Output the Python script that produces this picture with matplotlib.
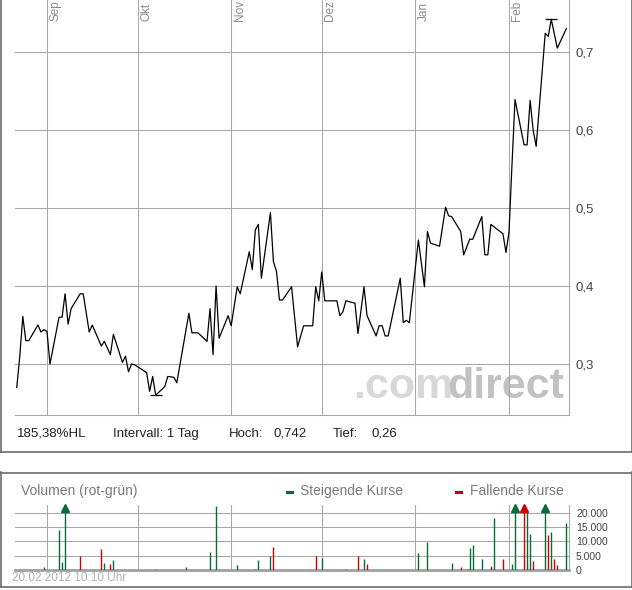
import matplotlib
matplotlib.use("Agg")
import matplotlib.pyplot as plt
from matplotlib.patches import Rectangle
from matplotlib.lines import Line2D
import pandas as pd

plt.rcParams['font.family'] = ['Liberation Sans', 'DejaVu Sans']

# daily closing prices
price_dates = [
    '2011-08-22', '2011-08-23', '2011-08-24', '2011-08-25', '2011-08-26',
    '2011-08-29', '2011-08-30', '2011-08-31', '2011-09-01', '2011-09-02',
    '2011-09-05', '2011-09-06', '2011-09-07', '2011-09-08', '2011-09-09',
    '2011-09-12', '2011-09-13', '2011-09-15', '2011-09-16', '2011-09-19',
    '2011-09-20', '2011-09-22', '2011-09-23', '2011-09-26', '2011-09-27',
    '2011-09-28', '2011-09-29', '2011-09-30', '2011-10-04', '2011-10-05',
    '2011-10-06', '2011-10-07', '2011-10-10', '2011-10-11', '2011-10-13',
    '2011-10-14', '2011-10-18', '2011-10-19', '2011-10-21', '2011-10-24',
    '2011-10-25', '2011-10-26', '2011-10-27', '2011-10-28', '2011-10-31',
    '2011-11-01', '2011-11-03', '2011-11-04', '2011-11-07', '2011-11-08',
    '2011-11-09', '2011-11-10', '2011-11-11', '2011-11-14', '2011-11-15',
    '2011-11-16', '2011-11-17', '2011-11-18', '2011-11-21', '2011-11-23',
    '2011-11-25', '2011-11-28', '2011-11-29', '2011-11-30', '2011-12-01',
    '2011-12-02', '2011-12-06', '2011-12-07', '2011-12-08', '2011-12-09',
    '2011-12-12', '2011-12-13', '2011-12-15', '2011-12-16', '2011-12-19',
    '2011-12-20', '2011-12-21', '2011-12-22', '2011-12-23', '2011-12-27',
    '2011-12-28', '2011-12-29', '2011-12-30', '2012-01-02', '2012-01-04',
    '2012-01-05', '2012-01-06', '2012-01-09', '2012-01-11', '2012-01-12',
    '2012-01-13', '2012-01-16', '2012-01-17', '2012-01-19', '2012-01-20',
    '2012-01-23', '2012-01-24', '2012-01-25', '2012-01-26', '2012-01-30',
    '2012-01-31', '2012-02-01', '2012-02-02', '2012-02-03', '2012-02-06',
    '2012-02-07', '2012-02-08', '2012-02-09', '2012-02-10', '2012-02-13',
    '2012-02-14', '2012-02-15', '2012-02-17', '2012-02-20',
]
price_values = [
    0.270, 0.310, 0.361, 0.330, 0.330,
    0.350, 0.341, 0.344, 0.342, 0.300,
    0.360, 0.360, 0.390, 0.351, 0.371,
    0.390, 0.390, 0.341, 0.350, 0.323,
    0.329, 0.312, 0.338, 0.302, 0.310,
    0.290, 0.300, 0.299, 0.289, 0.265,
    0.284, 0.260, 0.271, 0.284, 0.283,
    0.276, 0.365, 0.340, 0.340, 0.329,
    0.371, 0.312, 0.400, 0.333, 0.362,
    0.349, 0.399, 0.390, 0.444, 0.421,
    0.472, 0.479, 0.410, 0.494, 0.431,
    0.419, 0.382, 0.382, 0.399, 0.322,
    0.349, 0.349, 0.399, 0.381, 0.418,
    0.381, 0.381, 0.362, 0.367, 0.381,
    0.378, 0.339, 0.399, 0.362, 0.336,
    0.349, 0.349, 0.336, 0.336, 0.410,
    0.353, 0.356, 0.353, 0.459, 0.399,
    0.470, 0.455, 0.451, 0.501, 0.490,
    0.489, 0.470, 0.440, 0.460, 0.460,
    0.489, 0.440, 0.440, 0.479, 0.467,
    0.443, 0.469, 0.556, 0.639, 0.581,
    0.581, 0.638, 0.600, 0.579, 0.724,
    0.720, 0.742, 0.705, 0.730,
]

# traded volume (pieces); values above the scale are cut off with an arrow
vol_dates = [
    '2011-08-31', '2011-09-05', '2011-09-06', '2011-09-07', '2011-09-12',
    '2011-09-19', '2011-09-20', '2011-09-22', '2011-09-23', '2011-10-07',
    '2011-10-17', '2011-10-25', '2011-10-27', '2011-11-03', '2011-11-09',
    '2011-11-10', '2011-11-14', '2011-11-15', '2011-11-29', '2011-12-01',
    '2011-12-09', '2011-12-13', '2011-12-15', '2011-12-16', '2012-01-02',
    '2012-01-05', '2012-01-13', '2012-01-16', '2012-01-18', '2012-01-19',
    '2012-01-20', '2012-01-23', '2012-01-26', '2012-01-27', '2012-01-30',
    '2012-02-02', '2012-02-03', '2012-02-06', '2012-02-07', '2012-02-08',
    '2012-02-09', '2012-02-13', '2012-02-14', '2012-02-15', '2012-02-16',
    '2012-02-17', '2012-02-20',
]
vol_values = [
    1200, 14000, 2800, 30000, 4900,
    7400, 2300, 2100, 3500, 350,
    1200, 6300, 22600, 1750, 400,
    3500, 4900, 8100, 4900, 4200,
    350, 4900, 3900, 2100, 6000,
    9800, 2500, 1050, 350, 7700,
    8800, 3900, 1400, 18300, 3900,
    2100, 30000, 30000, 21000, 12600,
    3200, 30000, 12300, 13300, 3900,
    1750, 16600,
]
vol_rising = [
    1, 1, 1, 1, 0,
    0, 1, 0, 1, 0,
    1, 1, 1, 1, 1,
    1, 1, 0, 0, 1,
    0, 0, 1, 0, 1,
    1, 1, 0, 0, 1,
    1, 1, 0, 1, 0,
    1, 1, 0, 1, 1,
    0, 1, 0, 1, 0,
    0, 1,
]

month_starts = ['2011-09-01', '2011-10-01', '2011-11-01',
                '2011-12-01', '2012-01-01', '2012-02-01']
month_labels = ['Sep', 'Okt', 'Nov', 'Dez', 'Jan', 'Feb']

price_ticks = [0.3, 0.4, 0.5, 0.6, 0.7]
price_tick_labels = ['0,3', '0,4', '0,5', '0,6', '0,7']
vol_ticks = [0, 5000, 10000, 15000, 20000]
vol_tick_labels = ['0', '5.000', '10.000', '15.000', '20.000']

GRID = '#a8a8a8'
FRAME = '#6c6c6c'
GREEN = '#0a6b3a'
RED = '#d00000'

W, H = 632, 590


def fx(px):
    return px / W


def fy(py):
    return 1 - py / H


fig = plt.figure(figsize=(W / 100, H / 100), dpi=100)
fig.patch.set_facecolor('white')

dates = pd.to_datetime(price_dates)
vdates = pd.to_datetime(vol_dates)
mstarts = pd.to_datetime(month_starts)
x_start = pd.Timestamp('2011-08-21 10:00')
x_end = pd.Timestamp('2012-02-20 21:00')

# ---- price panel ----
ax = fig.add_axes([fx(15), fy(415), (569 - 15) / W, 415 / H])
ax.set_xlim(x_start, x_end)
ax.set_ylim(0.2346, 0.7667)
ax.set_axisbelow(True)

ax.plot(dates, price_values, color='black', lw=0.9, zorder=3)

# high / low markers
s = pd.Series(price_values, index=dates)
for d in (s.idxmax(), s.idxmin()):
    ax.plot([d], [s[d]], marker='_', ms=8, mew=0.9, color='black', zorder=3)

ax.set_yticks(price_ticks)
ax.set_yticklabels(price_tick_labels)
ax.yaxis.tick_right()
ax.set_xticks(mstarts)
ax.set_xticklabels([])
ax.tick_params(length=0, pad=5, labelsize=9.5, labelcolor='#444444')
ax.grid(True, color=GRID, lw=0.75)
for side in ('top', 'left'):
    ax.spines[side].set_visible(False)
for side in ('bottom', 'right'):
    ax.spines[side].set_color(GRID)
    ax.spines[side].set_linewidth(0.75)

trans = ax.get_xaxis_transform()
for d, lab in zip(mstarts, month_labels):
    ax.text(d + pd.Timedelta(hours=20), 1 - 21 / 415, lab, transform=trans,
            rotation=90, ha='left', va='bottom', fontsize=8.5,
            color='#8a8a8a', clip_on=False)

# watermark
ax.text(fx(353), fy(398), '.com', transform=fig.transFigure, fontsize=31,
        fontweight='bold', color='#d8d8d8', ha='left', va='baseline',
        zorder=0.2)
ax.text(fx(564), fy(398), 'direct', transform=fig.transFigure, fontsize=31,
        fontweight='bold', color='#c2c2c2', ha='right', va='baseline',
        zorder=0.2)

# info row
info = [(17, '185,38%HL'), (113, 'Intervall: 1 Tag'), (229, 'Hoch:'),
        (273, '0,742'), (333, 'Tief:'), (371, '0,26')]
for px, txt in info:
    fig.text(fx(px), fy(434), txt, fontsize=9.5, color='#222222',
             ha='left', va='center')

# ---- volume panel ----
vax = fig.add_axes([fx(15), fy(570), (569 - 15) / W, 65 / H])
vax.set_xlim(x_start, x_end)
vmax = 22800
vax.set_ylim(0, vmax)
vax.set_axisbelow(True)

colors = [GREEN if r else RED for r in vol_rising]
vax.vlines(vdates, 0, vol_values, colors=colors, lw=1.0, zorder=3)
for d, v, c in zip(vdates, vol_values, colors):
    if v > vmax:
        vax.plot([d], [vmax - 1200], marker='^', ms=5.5, color=c,
                 clip_on=False, zorder=4)

vax.set_yticks(vol_ticks)
vax.set_yticklabels(vol_tick_labels)
vax.yaxis.tick_right()
vax.set_xticks(mstarts)
vax.set_xticklabels([])
vax.tick_params(length=0, pad=5, labelsize=7.5, labelcolor='#444444')
vax.grid(True, color=GRID, lw=0.75)
for side in ('top', 'left', 'bottom'):
    vax.spines[side].set_visible(False)
vax.spines['right'].set_color(GRID)
vax.spines['right'].set_linewidth(0.75)
vax.axhline(0, color='#a0a0a0', lw=2, clip_on=False, zorder=2)

fig.text(fx(21), fy(491), 'Volumen (rot-grün)', fontsize=10,
         color='#7a7a7a', ha='left', va='center')
fig.add_artist(Rectangle((fx(286), fy(493.5)), 8 / W, 3 / H,
                         transform=fig.transFigure, color=GREEN, lw=0))
fig.text(fx(300), fy(491), 'Steigende Kurse', fontsize=10,
         color='#7a7a7a', ha='left', va='center')
fig.add_artist(Rectangle((fx(455), fy(493.5)), 8 / W, 3 / H,
                         transform=fig.transFigure, color=RED, lw=0))
fig.text(fx(470), fy(491), 'Fallende Kurse', fontsize=10,
         color='#7a7a7a', ha='left', va='center')
fig.text(fx(12), fy(578), '20.02.2012 10:10 Uhr', fontsize=8.5,
         color='#b0b0b0', ha='left', va='center')

# ---- panel frames ----
frame_lines = [
    ((0.5, 0.5), (0, 452)),
    ((631.5, 631.5), (0, 452)),
    ((0, 632), (452, 452)),
    ((0.5, 0.5), (472, 587)),
    ((631.5, 631.5), (472, 587)),
    ((0, 632), (472.5, 472.5)),
    ((0, 632), (587, 587)),
]
for xs, ys in frame_lines:
    fig.add_artist(Line2D([fx(x) for x in xs], [fy(y) for y in ys],
                          transform=fig.transFigure, color=FRAME, lw=1.2))

fig.savefig('out.png', dpi=100)
